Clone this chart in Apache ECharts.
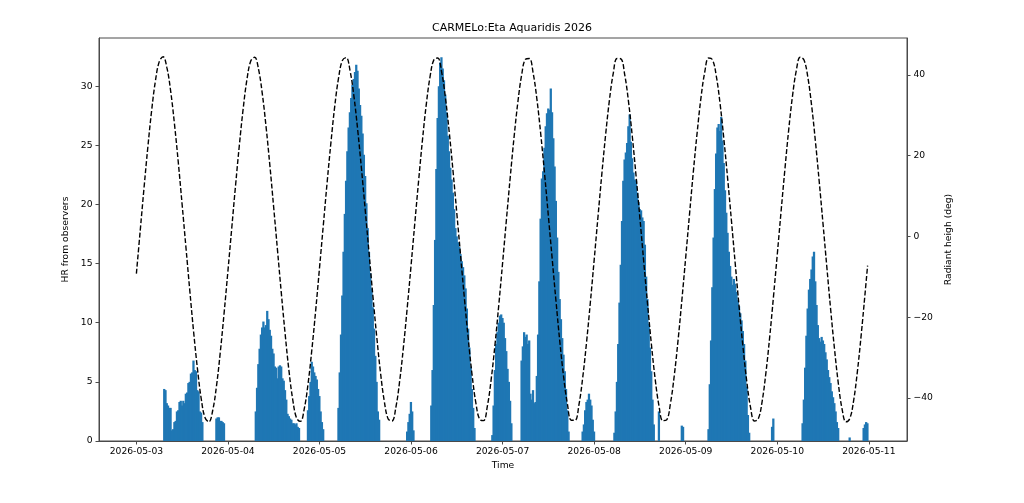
<!DOCTYPE html>
<html>
<head>
<meta charset="utf-8">
<title>CARMELo:Eta Aquaridis 2026</title>
<script src="https://cdn.jsdelivr.net/npm/echarts@6.0.0/dist/echarts.min.js"></script>
<style>
  html, body { margin: 0; padding: 0; background: #fff; }
  #chart { width: 1024px; height: 503px; }
</style>
</head>
<body>
<div id="chart"></div>
<script>
  // x values are hours since 2026-05-03 00:00
  const dayLabels = ['2026-05-03', '2026-05-04', '2026-05-05', '2026-05-06', '2026-05-07',
    '2026-05-08', '2026-05-09', '2026-05-10', '2026-05-11'];
  const dayTickHours = [0, 24, 48, 72, 96, 120, 144, 168, 192];
  const hrTicks = [0, 5, 10, 15, 20, 25, 30];
  const radiantTicks = [-40, -20, 0, 20, 40];

  // HR histogram, 20 minute bins; each run starts at the given hour
  const binHours = 1 / 3;
  const hrMay03a = [4.4, 4.3, 3.2, 3.0, 2.8, 2.8, 0.9, 1.0, 1.6, 1.7, 2.5, 2.6, 3.3, 3.4, 3.0, 3.4,
    3.2, 4.0, 4.1, 4.9, 5.0, 5.7, 5.8, 6.8, 6.0, 5.9, 4.3, 4.2, 2.5, 2.4, 1.6];
  const hrMay03b = [1.9, 2.0, 2.0, 1.7, 1.7, 1.6, 1.5];
  const hrMay04a = [2.5, 4.5, 6.5, 7.8, 9.0, 9.6, 10.1, 9.6, 9.8, 11.0, 10.3, 9.4, 8.9, 7.8, 7.4, 6.3,
    6.2, 5.3, 6.3, 6.4, 6.3, 5.3, 5.1, 4.3, 3.5, 2.3, 2.1, 1.9, 1.8, 1.5, 1.5, 1.4, 1.5, 1.2, 1.1];
  const hrMay04b = [2.6, 3.8, 5.0, 6.7, 6.3, 5.8, 5.5, 5.2, 4.4, 3.8, 2.5, 1.6, 1.0];
  const hrMay05a = [2.8, 5.8, 9.0, 12.3, 16.0, 19.2, 22.0, 24.5, 26.5, 27.8, 29.0, 30.1, 30.6, 31.2,
    31.8, 31.3, 29.8, 28.4, 27.5, 26.0, 24.2, 22.4, 20.1, 18.0, 16.0, 14.2, 12.9, 11.3, 9.5, 7.2,
    5.0, 2.5, 1.8];
  const hrMay05b = [0.8, 1.6, 2.3, 3.3, 2.5, 0.9];
  const hrMay06a = [3.0, 6.0, 11.5, 17.0, 23.0, 27.3, 30.0, 32.0, 32.45, 31.5, 30.5, 29.3, 27.8, 25.8,
    24.5, 23.1, 22.1, 21.0, 19.6, 18.0, 17.3, 16.8, 16.4, 15.8, 15.2, 14.7, 14.0, 12.9, 11.2, 9.5,
    7.9, 6.3, 4.4, 2.8, 1.1];
  const hrMay06b = [0.5, 3.0, 6.0, 8.2, 9.2, 10.0, 10.6, 10.7, 10.4, 10.0, 8.7, 7.6, 6.1, 5.0, 3.4, 1.5];
  const hrMay07a = [6.8, 8.0, 9.2, 8.8, 9.0, 8.2, 8.5, 4.0, 3.5, 4.3, 3.2];
  const hrMay07b = [3.3, 5.5, 9.0, 13.5, 18.8, 22.2, 22.8, 24.8, 26.6, 27.7, 28.1, 28.0, 29.8, 27.8,
    25.6, 23.2, 20.3, 17.2, 14.3, 12.0, 10.3, 8.7, 7.3, 5.9, 4.4, 2.6, 0.8];
  const hrMay07c = [0.8, 1.4, 2.6, 3.3, 3.5, 4.0, 3.5, 3.0, 1.8, 0.8];
  const hrMay08a = [0.7, 2.5, 5.0, 8.2, 11.7, 14.9, 18.6, 22.0, 23.8, 24.4, 25.2, 26.6, 27.6, 25.3,
    23.9, 22.7, 22.1, 22.0, 21.0, 20.2, 19.6, 19.5, 18.9, 18.6, 16.6, 13.9, 12.0, 9.9, 7.9, 5.9, 3.5, 1.4];
  const hrMay08b = [2.5];
  const hrMay08c = [1.3, 1.2];
  const hrMay09a = [1.0, 4.8, 8.5, 13.0, 17.2, 21.3, 24.3, 26.5, 26.8, 26.2, 27.4, 25.4, 23.5, 21.2,
    19.3, 17.6, 16.0, 14.8, 13.9, 13.2, 13.7, 13.3, 12.6, 11.9, 11.4, 10.8, 10.2, 9.3, 8.2, 6.8,
    4.6, 2.2, 0.7];
  const hrMay09b = [1.2, 1.9];
  const hrMay10a = [1.5, 3.5, 6.2, 8.9, 11.2, 12.8, 13.7, 14.5, 15.6, 16.0, 13.5, 11.5, 9.8, 8.7, 8.4,
    8.8, 8.5, 8.2, 7.5, 6.9, 6.0, 5.4, 4.9, 4.2, 3.7, 3.2, 2.5, 1.6, 1.1];
  const hrMay10b = [0.3];
  const hrMay10c = [1.1, 1.4, 1.6, 1.5];

  const hrRuns = [
    [7.0, hrMay03a], [20.67, hrMay03b], [31.0, hrMay04a], [44.67, hrMay04b],
    [52.67, hrMay05a], [70.67, hrMay05b], [77.0, hrMay06a], [93.0, hrMay06b],
    [100.67, hrMay07a], [104.33, hrMay07b], [116.67, hrMay07c], [125.0, hrMay08a],
    [136.67, hrMay08b], [142.67, hrMay08c], [149.67, hrMay09a], [166.33, hrMay09b],
    [174.33, hrMay10a], [186.67, hrMay10b], [190.33, hrMay10c]
  ];

  // radiant height (deg), one value per hour from 2026-05-03 00:00
  const radiantMay03 = [-9.2, 1.4, 12.0, 22.1, 31.2, 38.6, 43.3, 44.5, 41.8, 35.9, 27.7, 18.2, 7.8, -2.8,
    -13.4, -23.6, -32.7, -40.2, -44.9, -45.9, -43.1, -37.0, -28.6, -18.9];
  const radiantMay04 = [-8.5, 2.1, 12.7, 22.7, 31.7, 39.0, 43.5, 44.4, 41.5, 35.4, 27.1, 17.5, 7.1, -3.5,
    -14.1, -24.2, -33.3, -40.5, -45.0, -45.8, -42.7, -36.5, -28.0, -18.3];
  const radiantMay05 = [-7.8, 2.8, 13.4, 23.3, 32.3, 39.3, 43.6, 44.3, 41.1, 34.9, 26.5, 16.8, 6.4, -4.2,
    -14.8, -24.8, -33.8, -40.9, -45.2, -45.7, -42.4, -35.9, -27.4, -17.6];
  const radiantMay06 = [-7.2, 3.5, 14.0, 24.0, 32.8, 39.7, 43.8, 44.2, 40.8, 34.4, 25.9, 16.2, 5.7, -4.9,
    -15.5, -25.4, -34.3, -41.3, -45.3, -45.6, -42.0, -35.4, -26.8, -16.9];
  const radiantMay07 = [-6.5, 4.2, 14.7, 24.6, 33.3, 40.1, 43.9, 44.1, 40.5, 33.9, 25.3, 15.5, 5.0, -5.6,
    -16.1, -26.1, -34.8, -41.6, -45.5, -45.5, -41.7, -34.9, -26.2, -16.3];
  const radiantMay08 = [-5.8, 4.9, 15.4, 25.2, 33.8, 40.4, 44.1, 44.0, 40.1, 33.4, 24.7, 14.8, 4.4, -6.3,
    -16.8, -26.7, -35.4, -42.0, -45.6, -45.4, -41.3, -34.4, -25.6, -15.6];
  const radiantMay09 = [-5.1, 5.6, 16.1, 25.8, 34.4, 40.8, 44.2, 43.8, 39.8, 32.9, 24.1, 14.2, 3.7, -7.0,
    -17.5, -27.3, -35.9, -42.4, -45.7, -45.2, -41.0, -33.9, -25.0, -14.9];
  const radiantMay10 = [-4.4, 6.3, 16.7, 26.5, 34.9, 41.2, 44.4, 43.7, 39.5, 32.4, 23.5, 13.5, 3.0, -7.7,
    -18.2, -27.9, -36.4, -42.8, -45.9, -45.1, -40.7, -33.4, -24.3, -14.2];
  // last sample of the series
  const radiantLastHour = 191.67;
  const radiantLastValue = -7.2;

  const radiantHeight = [].concat(radiantMay03, radiantMay04, radiantMay05, radiantMay06,
    radiantMay07, radiantMay08, radiantMay09, radiantMay10);

  const barData = [];
  hrRuns.forEach(([start, values]) => {
    values.forEach((v, i) => barData.push([start + i * binHours, v]));
  });
  const lineData = radiantHeight.map((v, i) => [i, v]);
  lineData.push([radiantLastHour, radiantLastValue]);

  const font = 'DejaVu Sans';
  const axisColor = '#4a4a4a';

  const myChart = echarts.init(document.getElementById('chart'), null, { renderer: 'canvas' });

  // draw each histogram bin edge to edge through the axis scales
  // (one extra pixel of overlap so neighbouring bins leave no seams)
  const renderBin = (params, api) => {
    const x0 = api.value(0);
    const top = api.coord([x0, api.value(1)]);
    const bottom = api.coord([x0 + binHours, 0]);
    return {
      type: 'rect',
      shape: { x: top[0], y: top[1], width: bottom[0] - top[0] + 1, height: bottom[1] - top[1] },
      style: { fill: '#1f77b4' },
    };
  };

  const option = {
    animation: false,
    backgroundColor: '#fff',
    title: {
      text: 'CARMELo:Eta Aquaridis 2026',
      left: 'center',
      top: 23,
      padding: 0,
      textStyle: { fontFamily: font, fontSize: 11, fontWeight: 'normal', color: '#000' },
    },
    grid: {
      left: 99,
      right: 117,
      top: 38,
      bottom: 62,
      show: true,
      borderColor: axisColor,
      borderWidth: 1,
      outerBoundsMode: 'none',
    },
    xAxis: {
      type: 'value',
      min: -9.8,
      max: 202,
      name: 'Time',
      nameLocation: 'middle',
      nameGap: 19,
      nameTextStyle: { fontFamily: font, fontSize: 9.2, color: '#000' },
      axisLine: { show: true, onZero: false, lineStyle: { color: axisColor, width: 1 } },
      axisTick: { show: true, length: 3.5, customValues: dayTickHours, lineStyle: { color: axisColor } },
      axisLabel: {
        customValues: dayTickHours,
        margin: 6,
        fontFamily: font,
        fontSize: 9.2,
        color: '#000',
        formatter: (v) => dayLabels[Math.round(v / 24)],
      },
      splitLine: { show: false },
    },
    yAxis: [{
        type: 'value',
        position: 'left',
        min: 0,
        max: 34.07,
        name: 'HR from observers',
        nameLocation: 'middle',
        nameGap: 22,
        nameTextStyle: { fontFamily: font, fontSize: 9.2, color: '#000' },
        axisLine: { show: true, onZero: false, lineStyle: { color: axisColor, width: 1 } },
        axisTick: { show: true, length: 3.5, customValues: hrTicks, lineStyle: { color: axisColor } },
        axisLabel: { customValues: hrTicks, margin: 6.5, fontFamily: font, fontSize: 9.2, color: '#000' },
        splitLine: { show: false },
      },
      {
        type: 'value',
        position: 'right',
        min: -50.65,
        max: 49.16,
        name: 'Radiant heigh (deg)',
        nameLocation: 'middle',
        nameGap: 29,
        nameTextStyle: { fontFamily: font, fontSize: 9.2, color: '#000' },
        axisLine: { show: true, onZero: false, lineStyle: { color: axisColor, width: 1 } },
        axisTick: { show: true, length: 3.5, customValues: radiantTicks, lineStyle: { color: axisColor } },
        axisLabel: {
          customValues: radiantTicks,
          margin: 6.5,
          fontFamily: font,
          fontSize: 9.2,
          color: '#000',
          formatter: (v) => String(v).replace('-', '\u2212'),
        },
        splitLine: { show: false },
      },
    ],
    series: [{
        name: 'HR',
        type: 'custom',
        yAxisIndex: 0,
        data: barData,
        encode: { x: 0, y: 1 },
        renderItem: renderBin,
        clip: true,
      },
      {
        name: 'Radiant',
        type: 'line',
        yAxisIndex: 1,
        data: lineData,
        smooth: 0.4,
        showSymbol: false,
        symbol: 'none',
        lineStyle: { color: '#000', width: 1.4, type: [5, 2.2] },
        z: 3,
      },
    ],
  };

  myChart.setOption(option);
</script>
</body>
</html>
